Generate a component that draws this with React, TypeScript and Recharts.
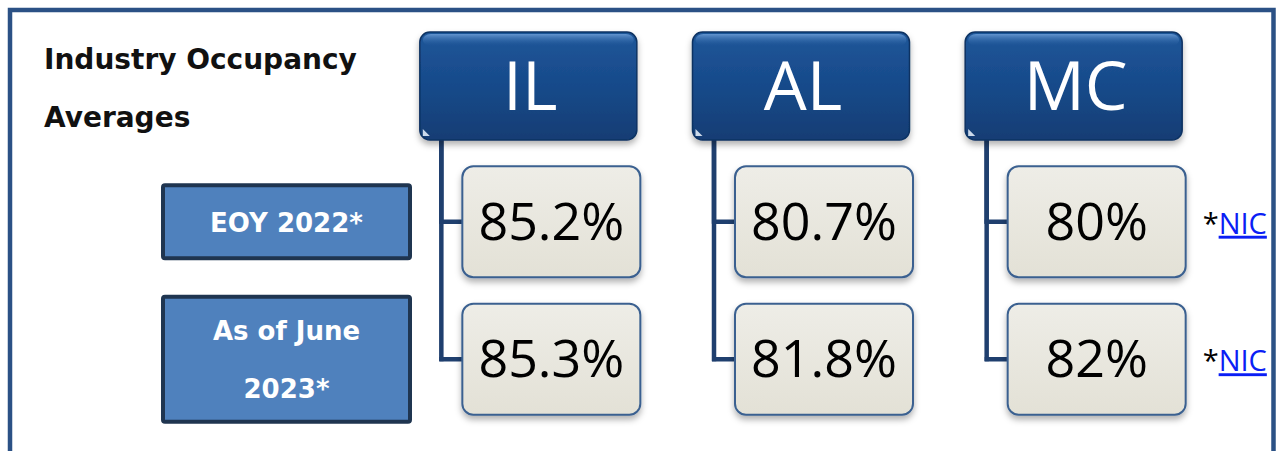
import { ScatterChart, Scatter, XAxis, YAxis } from "recharts";

const regions = ["IL", "AL", "MC"];
const periods = ["EOY 2022*", "As of June 2023*"];
const ilValues = [85.2, 85.3];
const alValues = [80.7, 81.8];
const mcValues = [80, 82];
const titleLines = ["Industry Occupancy", "Averages"];
const sourceLabel = "NIC";

const valuesByRegion: Record<string, number[]> = { IL: ilValues, AL: alValues, MC: mcValues };
const points = regions.flatMap((region) =>
  periods.map((period, i) => ({ region, period, value: valuesByRegion[region][i] }))
);

const WIDTH = 1279;
const HEIGHT = 451;
const AXIS_TOP = 153;
const HEADER_W = 217;
const HEADER_H = 108;
const HEADER_SHIFT = -23;
const HEADER_GAP = 13;
const BOX_W = 178;
const BOX_H = 111;
const CONNECTOR_OFFSET = 110;
const LABEL_W = 247;

const bold = "'DejaVu Sans', sans-serif";
const light = "'Open Sans', 'Noto Sans', sans-serif";

function HeaderTick(props: any) {
  const { x, payload } = props;
  const cx = x + HEADER_SHIFT;
  const left = cx - HEADER_W / 2;
  const top = AXIS_TOP - HEADER_GAP - HEADER_H;
  return (
    <g>
      <rect x={left} y={top} width={HEADER_W} height={HEADER_H} rx={10} fill="url(#headerFill)" stroke="#0d3262" strokeWidth={1.5} filter="url(#softShadow)" />
      <rect x={left + 3} y={top + 2} width={HEADER_W - 6} height={12} rx={8} fill="url(#headerGloss)" />
      <line x1={left + HEADER_W - 4} y1={top + 12} x2={left + HEADER_W - 4} y2={top + HEADER_H - 12} stroke="url(#edgeGloss)" strokeWidth={3} strokeLinecap="round" />
      <path d={`M${left + 3} ${top + HEADER_H - 4} l0 -7 l7 7 z`} fill="#dfeaf7" opacity={0.9} />
      <text x={cx + 2} y={top + HEADER_H / 2 + 24} textAnchor="middle" fill="#fff" fontFamily={light} fontSize={68}>
        {payload.value}
      </text>
    </g>
  );
}

function wrapLabel(label: string, maxChars = 11) {
  const lines: string[] = [];
  let cur = "";
  label.split(" ").forEach((w) => {
    const next = cur ? `${cur} ${w}` : w;
    if (next.length > maxChars && cur) {
      lines.push(cur);
      cur = w;
    } else cur = next;
  });
  if (cur) lines.push(cur);
  return lines;
}

function PeriodTick(props: any) {
  const { x, y, payload } = props;
  const lines = wrapLabel(String(payload.value));
  const h = 21 + 52 * lines.length;
  const right = x - 5;
  const left = right - LABEL_W;
  return (
    <g>
      <rect x={left} y={y - h / 2} width={LABEL_W} height={h} rx={2} fill="#4f81bd" stroke="#1f3550" strokeWidth={4} />
      {lines.map((line, i) => (
        <text
          key={line}
          x={left + LABEL_W / 2}
          y={y + 10 + (i - (lines.length - 1) / 2) * 58}
          textAnchor="middle"
          fill="#fff"
          fontFamily={bold}
          fontWeight="bold"
          fontSize={26}
        >
          {line}
        </text>
      ))}
    </g>
  );
}

function ValueBox(props: any) {
  const { cx, cy, payload } = props;
  const left = cx - BOX_W / 2;
  const top = cy - BOX_H / 2;
  const lx = cx - CONNECTOR_OFFSET;
  const isLast = payload.region === regions[regions.length - 1];
  return (
    <g>
      <line x1={lx} y1={AXIS_TOP - HEADER_GAP} x2={lx} y2={cy + 2} stroke="#1f3f6e" strokeWidth={4.5} />
      <line x1={lx - 2} y1={cy} x2={left} y2={cy} stroke="#1f3f6e" strokeWidth={4.5} />
      <rect x={left} y={top} width={BOX_W} height={BOX_H} rx={11} fill="url(#valueFill)" stroke="#3b6190" strokeWidth={2} filter="url(#softShadow)" />
      <text x={cx} y={cy + 18} textAnchor="middle" fill="#000" fontFamily={light} fontSize={52}>
        {`${payload.value}%`}
      </text>
      {isLast && (
        <text x={cx + 106} y={cy + 12} fontFamily={light} fontSize={29} fill="#000">
          *
          <a href="https://www.nic.org">
            <tspan fill="#0b1ef5" textDecoration="underline" style={{ textDecoration: "underline" }}>
              {sourceLabel}
            </tspan>
          </a>
        </text>
      )}
    </g>
  );
}

export default function App() {
  return (
    <div style={{ position: "relative", width: WIDTH, height: HEIGHT, background: "#fff", overflow: "hidden" }}>
      <style>{"html,body{margin:0;overflow:hidden;background:#fff}"}</style>
      <svg width={0} height={0} style={{ position: "absolute" }}>
        <defs>
          <linearGradient id="headerFill" x1="0" y1="0" x2="0" y2="1">
            <stop offset="0%" stopColor="#1f5699" />
            <stop offset="50%" stopColor="#174a8a" />
            <stop offset="100%" stopColor="#123d74" />
          </linearGradient>
          <linearGradient id="headerGloss" x1="0" y1="0" x2="0" y2="1">
            <stop offset="0%" stopColor="#6f9fd8" stopOpacity={0.85} />
            <stop offset="100%" stopColor="#2a5fa3" stopOpacity={0} />
          </linearGradient>
          <linearGradient id="edgeGloss" x1="0" y1="0" x2="0" y2="1">
            <stop offset="0%" stopColor="#5e93d2" />
            <stop offset="50%" stopColor="#b8dcfa" />
            <stop offset="100%" stopColor="#4f86c8" />
          </linearGradient>
          <linearGradient id="valueFill" x1="0" y1="0" x2="0" y2="1">
            <stop offset="0%" stopColor="#eeede7" />
            <stop offset="100%" stopColor="#e3e1d6" />
          </linearGradient>
          <filter id="softShadow" x="-10%" y="-10%" width="125%" height="135%">
            <feDropShadow dx="0" dy="4" stdDeviation="3" floodColor="#000" floodOpacity="0.3" />
          </filter>
        </defs>
      </svg>
      <ScatterChart width={WIDTH} height={HEIGHT} margin={{ top: 0, right: 46, bottom: 23, left: 0 }}>
        <XAxis
          type="category"
          dataKey="region"
          orientation="top"
          height={AXIS_TOP}
          allowDuplicatedCategory={false}
          axisLine={false}
          tickLine={false}
          tickSize={0}
          tickMargin={0}
          interval={0}
          tick={(p: any) => <HeaderTick {...p} />}
        />
        <YAxis
          type="category"
          dataKey="period"
          width={415}
          reversed
          allowDuplicatedCategory={false}
          axisLine={false}
          tickLine={false}
          tickSize={0}
          tickMargin={0}
          interval={0}
          tick={(p: any) => <PeriodTick {...p} />}
        />
        <Scatter data={points} shape={(p: any) => <ValueBox {...p} />} isAnimationActive={false} />
      </ScatterChart>
      <svg width={WIDTH} height={HEIGHT} style={{ position: "absolute", left: 0, top: 0, pointerEvents: "none" }}>
        <rect x={10} y={10} width={1263.5} height={480} fill="none" stroke="#2b5185" strokeWidth={4.5} />
        {titleLines.map((line, i) => (
          <text key={line} x={44} y={69 + i * 58} fontFamily={bold} fontWeight="bold" fontSize={28} fill="#111">
            {line}
          </text>
        ))}
      </svg>
    </div>
  );
}
